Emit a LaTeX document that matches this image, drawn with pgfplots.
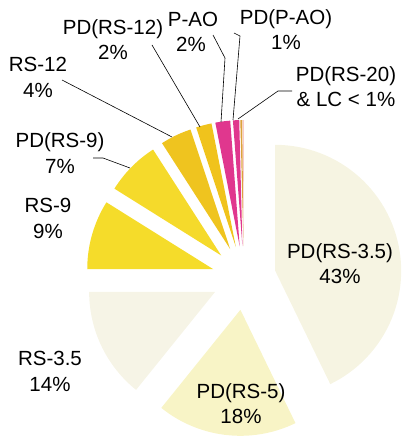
\documentclass[border=0pt]{standalone}
\usepackage{pgfplots}
\pgfplotsset{compat=1.18}
\usepackage{pgfplotstable}
\usepackage{fontspec}
\setmainfont{Liberation Sans}

\definecolor{slice0}{HTML}{F6F4E2}
\definecolor{slice1}{HTML}{F8F4C6}
\definecolor{slice2}{HTML}{F6F4E6}
\definecolor{slice3}{HTML}{F5DC2A}
\definecolor{slice4}{HTML}{F5DA2B}
\definecolor{slice5}{HTML}{EFC41F}
\definecolor{slice6}{HTML}{F0C31C}
\definecolor{slice7}{HTML}{E0378E}
\definecolor{slice8}{HTML}{E0378E}
\definecolor{slice9}{HTML}{DCA23C}
\definecolor{slice10}{HTML}{F8CACA}

\tikzset{lbl/.style={font=\fontsize{20.5bp}{25bp}\selectfont, text=black, inner sep=0pt, anchor=base}}

% share of each slice, in percent, clockwise from 12 o'clock
\pgfplotstableread{
name        value
PD(RS-3.5)  42.8
PD(RS-5)    18.0
RS-3.5      14.2
RS-9        8.9
PD(RS-9)    7.0
RS-12       4.0
PD(RS-12)   2.0
P-AO        1.9
PD(P-AO)    0.8
PD(RS-20)   0.25
LC          0.15
}\piedata

\begin{document}
\begin{tikzpicture}
\begin{axis}[
  width=402bp, height=440bp, scale only axis,
  xmin=0, xmax=402, ymin=0, ymax=440, y dir=reverse,
  hide axis, clip=false,
]
\path (axis cs:0,0) rectangle (axis cs:402,440);
\def\cx{244}\def\cy{278}\def\dd{32}\def\R{126}
\pgfplotstablegetrowsof{\piedata}
\pgfmathtruncatemacro\N{\pgfplotsretval-1}
\def\cum{0}
\pgfplotsforeachungrouped \i in {0,...,\N}{%
  \pgfplotstablegetelem{\i}{value}\of\piedata
  \let\v\pgfplotsretval
  \pgfmathsetmacro\aa{\cum*3.6}%
  \pgfmathsetmacro\bb{(\cum+\v)*3.6}%
  \pgfmathsetmacro\mm{(\aa+\bb)/2}%
  \pgfmathsetmacro\ax{\cx+\dd*sin(\mm)}%
  \pgfmathsetmacro\ay{\cy-\dd*cos(\mm)}%
  \edef\doplot{\noexpand\addplot[fill=slice\i, draw=none, domain=\aa:\bb, samples=60, variable=\noexpand\t]
    ({\ax+\R*sin(\noexpand\t)},{\ay-\R*cos(\noexpand\t)}) -- (axis cs:\ax,\ay) -- cycle;}%
  \doplot
  \pgfmathsetmacro\cum{\cum+\v}%
}

% leader lines
\draw[black, line width=0.6bp] (axis cs:152,45) -- (axis cs:200,127);
\draw[black, line width=0.6bp] (axis cs:62,80) -- (axis cs:172,137);
\draw[black, line width=0.6bp] (axis cs:93,158) -- (axis cs:103,158) -- (axis cs:130,168);
\draw[black, line width=0.6bp] (axis cs:213,35) -- (axis cs:225,58) -- (axis cs:221,122);
\draw[black, line width=0.6bp] (axis cs:234,33) -- (axis cs:240,36) -- (axis cs:233,120);
\draw[black, line width=0.6bp] (axis cs:292,91) -- (axis cs:278,91) -- (axis cs:238,119);

% labels
\node[lbl] at (axis cs:340,258) {PD(RS-3.5)};
\node[lbl] at (axis cs:340,283) {43\%};
\node[lbl] at (axis cs:241,398) {PD(RS-5)};
\node[lbl] at (axis cs:241,423) {18\%};
\node[lbl] at (axis cs:50,365) {RS-3.5};
\node[lbl] at (axis cs:50,391) {14\%};
\node[lbl] at (axis cs:48,213) {RS-9};
\node[lbl] at (axis cs:48,238) {9\%};
\node[lbl] at (axis cs:60,148) {PD(RS-9)};
\node[lbl] at (axis cs:60,174) {7\%};
\node[lbl] at (axis cs:38,72) {RS-12};
\node[lbl] at (axis cs:38,98) {4\%};
\node[lbl] at (axis cs:113,35) {PD(RS-12)};
\node[lbl] at (axis cs:113,60) {2\%};
\node[lbl] at (axis cs:193,27) {P-AO};
\node[lbl] at (axis cs:191,52) {2\%};
\node[lbl] at (axis cs:286,25) {PD(P-AO)};
\node[lbl] at (axis cs:286,50) {1\%};
\node[lbl] at (axis cs:346,82) {PD(RS-20)};
\node[lbl] at (axis cs:346,107) {\& LC < 1\%};
\end{axis}
\end{tikzpicture}
\end{document}
